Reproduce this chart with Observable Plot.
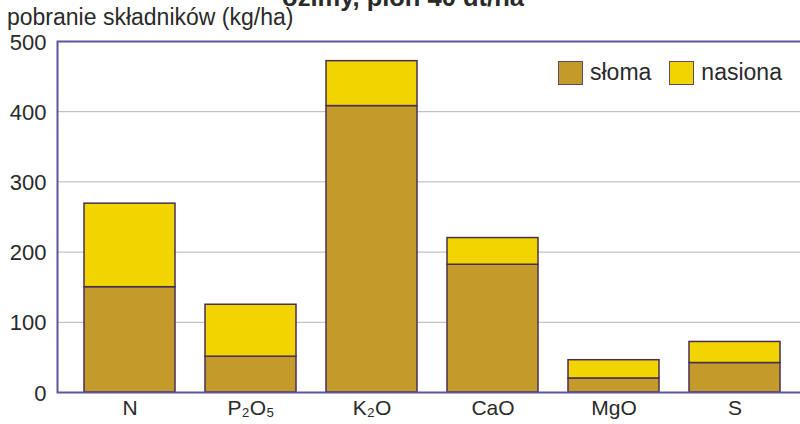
<!DOCTYPE html>
<html>
<head>
<meta charset="utf-8">
<script src="https://cdn.jsdelivr.net/npm/d3@7"></script>
<script src="https://cdn.jsdelivr.net/npm/@observablehq/plot@0.6"></script>
<style>
  html, body { margin: 0; padding: 0; background: #fff; }
  #wrap { position: relative; width: 800px; height: 424px; overflow: hidden; font-family: "Liberation Sans", Arial, sans-serif; color: #2a2a2a; }
  #title { position: absolute; left: 0; width: 806px; text-align: center; top: -17px; font-weight: bold; font-size: 25.5px; line-height: 28px; }
  #sub { position: absolute; left: 7px; top: 5px; font-size: 23px; line-height: 24px; }
  #chart { position: absolute; left: 0; top: 0; }
  #legend { position: absolute; left: 558px; top: 59px; display: flex; align-items: center; font-size: 23px; }
  #legend .sw { width: 25px; height: 24px; border: 1.5px solid #5a4a6a; box-sizing: border-box; margin-right: 7px; }
  #legend .item { display: flex; align-items: center; margin-right: 18px; }
</style>
</head>
<body>
<div id="wrap">
  <div id="chart"></div>
  <div id="title">ozimy, plon 40 dt/ha</div>
  <div id="sub">pobranie składników (kg/ha)</div>
  <div id="legend"></div>
</div>
<script>
const categories = ["N", "P2O5", "K2O", "CaO", "MgO", "S"];
const tickLabels = ["N", "P₂O₅", "K₂O", "CaO", "MgO", "S"];
const series = ["słoma", "nasiona"];
const slomaValues = [150, 51, 408, 182, 20, 42];
const nasionaValues = [119, 74, 64, 38, 26, 30];
const yTicks = [0, 100, 200, 300, 400, 500];
const gridTicks = [100, 200, 300, 400];
const colors = ["#c49a2a", "#f1d400"];

const data = [];
categories.forEach((c, i) => {
  data.push({cat: c, series: "słoma", value: slomaValues[i]});
  data.push({cat: c, series: "nasiona", value: nasionaValues[i]});
});

const frameColor = "#5d54a0";

const chart = Plot.plot({
  width: 800,
  height: 424,
  marginLeft: 57,
  marginRight: -6,
  marginTop: 41,
  marginBottom: 32,
  style: {fontFamily: "'Liberation Sans', Arial, sans-serif", fontSize: "22px", color: "#2a2a2a", background: "transparent"},
  x: {domain: categories, range: [57, 807], paddingInner: 0.248, paddingOuter: 0.223, label: null},
  y: {domain: [0, 500], label: null},
  color: {domain: series, range: colors},
  marks: [
    Plot.ruleY(gridTicks, {stroke: "#b4b4b4", strokeWidth: 1}),
    Plot.barY(data, {x: "cat", y: "value", fill: "series", stroke: "#4a2f55", strokeWidth: 1.5, order: null}),
    Plot.frame({stroke: frameColor, strokeWidth: 2}),
    Plot.axisY({ticks: yTicks, tickSize: 0, tickPadding: 11, label: null, fontSize: "22px", dy: 1}),
    Plot.axisX({tickSize: 0, tickPadding: 8, label: null, tickFormat: (d) => tickLabels[categories.indexOf(d)], fontSize: "21px"})
  ]
});
document.getElementById("chart").appendChild(chart);

const legend = document.getElementById("legend");
series.forEach((s, i) => {
  const item = document.createElement("div");
  item.className = "item";
  const sw = document.createElement("div");
  sw.className = "sw";
  sw.style.background = colors[i];
  const t = document.createElement("span");
  t.textContent = s;
  item.appendChild(sw);
  item.appendChild(t);
  legend.appendChild(item);
});
</script>
</body>
</html>
